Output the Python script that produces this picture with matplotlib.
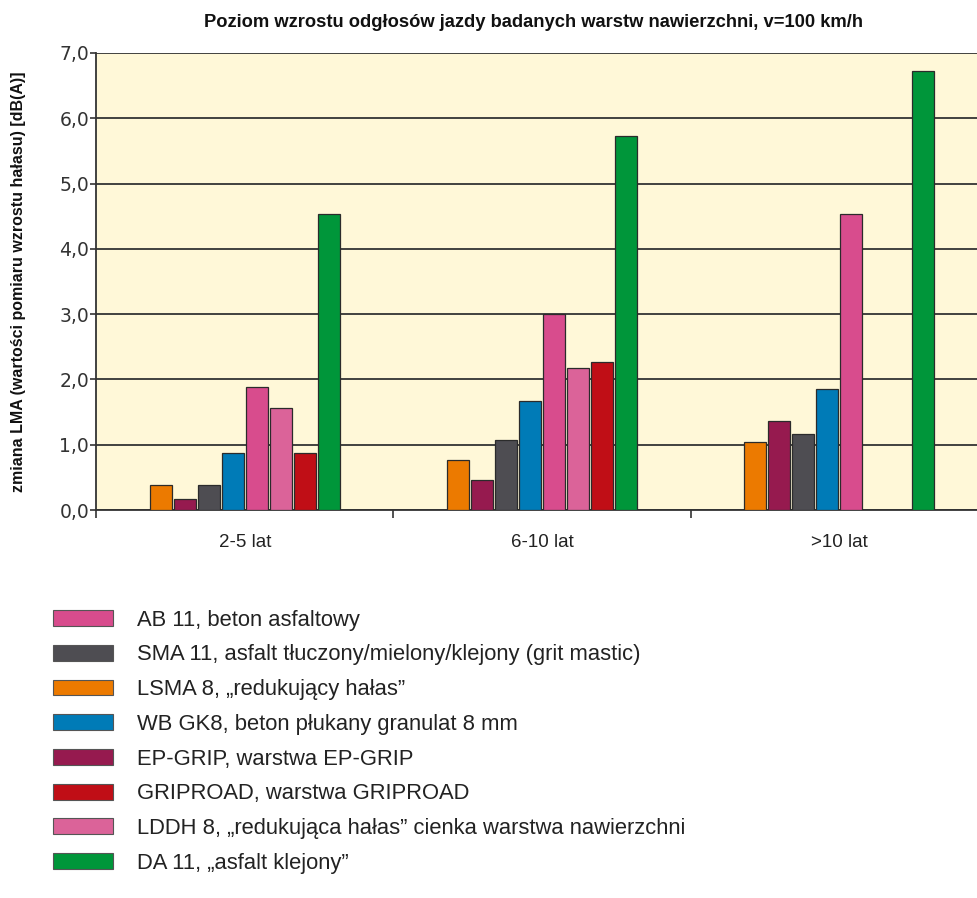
import matplotlib
matplotlib.use("Agg")
import matplotlib.pyplot as plt
import matplotlib.patches as mpatches
import numpy as np

plt.rcParams['font.family'] = ['Liberation Sans', 'DejaVu Sans']

groups = ['2-5 lat', '6-10 lat', '>10 lat']

# series in the order the bars stand inside each group
series = ['LSMA 8', 'EP-GRIP', 'SMA 11', 'WB GK8', 'AB 11', 'LDDH 8', 'GRIPROAD', 'DA 11']
lsma8 = [0.38, 0.77, 1.05]
ep_grip = [0.17, 0.46, 1.36]
sma11 = [0.38, 1.07, 1.16]
wb_gk8 = [0.87, 1.67, 1.85]
ab11 = [1.88, 3.0, 4.54]
lddh8 = [1.57, 2.17, np.nan]
griproad = [0.87, 2.26, np.nan]
da11 = [4.53, 5.73, 6.73]
values = [lsma8, ep_grip, sma11, wb_gk8, ab11, lddh8, griproad, da11]

colors = {
    'AB 11': '#d84c8d',
    'SMA 11': '#4e4d52',
    'LSMA 8': '#ec7a00',
    'WB GK8': '#007bb7',
    'EP-GRIP': '#961a4f',
    'GRIPROAD': '#c00e16',
    'LDDH 8': '#db6399',
    'DA 11': '#00963a',
}

legend_order = ['AB 11', 'SMA 11', 'LSMA 8', 'WB GK8', 'EP-GRIP', 'GRIPROAD', 'LDDH 8', 'DA 11']
legend_labels = [
    'AB 11, beton asfaltowy',
    'SMA 11, asfalt tłuczony/mielony/klejony (grit mastic)',
    'LSMA 8, \u201eredukujący hałas\u201d',
    'WB GK8, beton płukany granulat 8 mm',
    'EP-GRIP, warstwa EP-GRIP',
    'GRIPROAD, warstwa GRIPROAD',
    'LDDH 8, \u201eredukująca hałas\u201d cienka warstwa nawierzchni',
    'DA 11, \u201easfalt klejony\u201d',
]

fig = plt.figure(figsize=(9.77, 8.98), dpi=100)
ax = fig.add_axes([0.0983, 0.432, 0.913, 0.509])
ax.set_facecolor('#fff8d8')

x = np.arange(len(groups))
pitch = 0.0808
width = 0.074
for i, (name, vals) in enumerate(zip(series, values)):
    offs = (i - (len(series) - 1) / 2) * pitch
    ax.bar(x + offs, vals, width, color=colors[name], edgecolor='#2b2b2b',
           linewidth=0.9, zorder=3)

ax.set_xlim(-0.5, 2.5)
ax.set_ylim(0, 7)
ax.set_yticks(np.arange(0, 8, 1))
ax.set_yticklabels(['%d,0' % v for v in range(8)], family='DejaVu Sans')
ax.yaxis.grid(True, color='#333333', linewidth=1.3, zorder=1)
ax.set_axisbelow(True)

ax.set_xticks(x)
ax.set_xticklabels(groups)
ax.set_xticks([-0.5, 0.5, 1.5], minor=True)
ax.tick_params(axis='x', which='major', length=0, pad=17, labelsize=13.5, labelcolor='#222222')
ax.tick_params(axis='x', which='minor', length=6, width=1.2, color='#333333')
ax.tick_params(axis='y', length=4, width=1.2, color='#333333', pad=1, labelsize=13.5, labelcolor='#333333')

for side in ['top', 'right']:
    ax.spines[side].set_visible(False)
ax.spines['left'].set_color('#333333')
ax.spines['left'].set_linewidth(1.3)
ax.spines['bottom'].set_color('#333333')
ax.spines['bottom'].set_linewidth(1.3)

fig.text(0.546, 0.9755, 'Poziom wzrostu odgłosów jazdy badanych warstw nawierzchni, v=100 km/h',
         ha='center', va='center', fontsize=13.2, fontweight='bold', color='#111111')
ax.set_ylabel('zmiana LMA (wartości pomiaru wzrostu hałasu) [dB(A)]', fontsize=11.5,
              fontweight='bold', color='#111111')
ax.yaxis.set_label_coords(-0.078, 0.5)

handles = [mpatches.Patch(facecolor=colors[n], edgecolor='#555555', linewidth=0.8)
           for n in legend_order]
fig.legend(handles, legend_labels, loc='upper left', bbox_to_anchor=(0.034, 0.343),
           frameon=False, fontsize=15.8, handlelength=2.73, handleheight=0.73,
           labelspacing=0.625, handletextpad=1.09, labelcolor='#222222')

fig.savefig('out.png', dpi=100, facecolor='white')
